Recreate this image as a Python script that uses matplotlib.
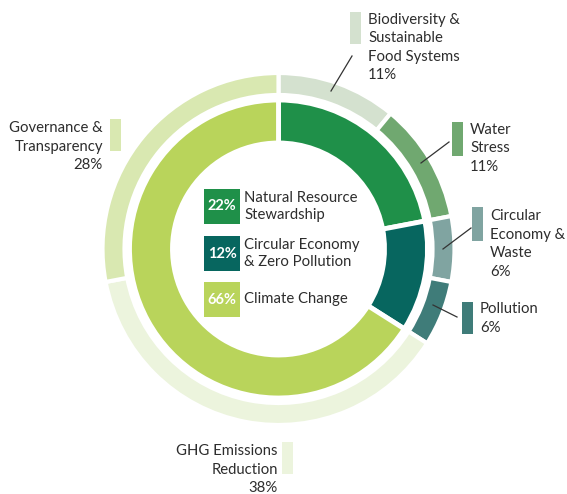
import matplotlib
matplotlib.use("Agg")
import matplotlib.pyplot as plt

plt.rcParams['font.family'] = ['Lato', 'DejaVu Sans']

# Inner ring
inner_labels = ["Natural Resource\nStewardship", "Circular Economy\n& Zero Pollution", "Climate Change"]
inner_values = [22, 12, 66]
inner_colors = ["#1f9049", "#07665f", "#b9d45b"]

# Outer ring
outer_labels = ["Biodiversity &\nSustainable\nFood Systems", "Water\nStress", "Circular\nEconomy &\nWaste",
                "Pollution", "GHG Emissions\nReduction", "Governance &\nTransparency"]
outer_values = [11, 11, 6, 6, 38, 28]
outer_colors = ["#d4e1cf", "#70a870", "#80a4a1", "#3f7c79", "#ecf4dd", "#d9e8b1"]

W, H = 567, 494
fig = plt.figure(figsize=(W / 100, H / 100), dpi=100)
ax = fig.add_axes([0, 0, 1, 1])

def Y(py):
    return H - py

cx, cy = 278.5, Y(249)

ax.pie(outer_values, colors=outer_colors, startangle=90, counterclock=False,
       radius=176, center=(cx, cy),
       wedgeprops=dict(width=22, edgecolor="white", linewidth=3))
ax.pie(inner_values, colors=inner_colors, startangle=90, counterclock=False,
       radius=149, center=(cx, cy),
       wedgeprops=dict(width=43, edgecolor="white", linewidth=3.5))

ax.set_xlim(0, W)
ax.set_ylim(0, H)
ax.set_aspect("equal")
ax.axis("off")

txt = "#2d2d2d"
fs = 10.7

# Center legend
box_tops = [189, 236, 282]
for lab, val, col, top in zip(inner_labels, inner_values, inner_colors, box_tops):
    ax.add_patch(plt.Rectangle((204, Y(top + 35)), 36, 35, facecolor=col, edgecolor="none"))
    ax.text(222, Y(top + 17.5), f"{val}%", color="white", fontsize=10.5, fontweight="bold",
            ha="center", va="center")
    ax.text(244, Y(top + 17.5), lab, color=txt, fontsize=fs, ha="left", va="center",
            linespacing=1.25)

# Outer labels: (box x, box top, box bottom, text x, text top-line center, ha, leader)
outer_layout = [
    (350, 12, 44, 368, 20, "left", ((331, 91), (352, 56))),
    (452, 122, 156, 470, 130, "left", ((421, 163), (449, 142))),
    (472, 207, 241, 490, 216, "left", ((443, 249), (471, 228))),
    (462, 302, 334, 480, 309, "left", ((433, 305), (457, 317))),
    (282, 442, 474, 278, 451, "right", None),
    (110, 119, 151, 103, 128, "right", None),
]
line_h = 18.5
for lab, val, col, (bx, bt, bb, tx, ty, ha, lead) in zip(outer_labels, outer_values, outer_colors, outer_layout):
    ax.add_patch(plt.Rectangle((bx, Y(bb)), 11, bb - bt, facecolor=col, edgecolor="none"))
    lines = lab.split("\n") + [f"{val}%"]
    for i, ln in enumerate(lines):
        ax.text(tx, Y(ty + i * line_h), ln, color=txt, fontsize=fs, ha=ha, va="center")
    if lead is not None:
        (x0, y0), (x1, y1) = lead
        ax.plot([x0, x1], [Y(y0), Y(y1)], color="#333333", lw=0.9)

fig.savefig("out.png", dpi=100)
